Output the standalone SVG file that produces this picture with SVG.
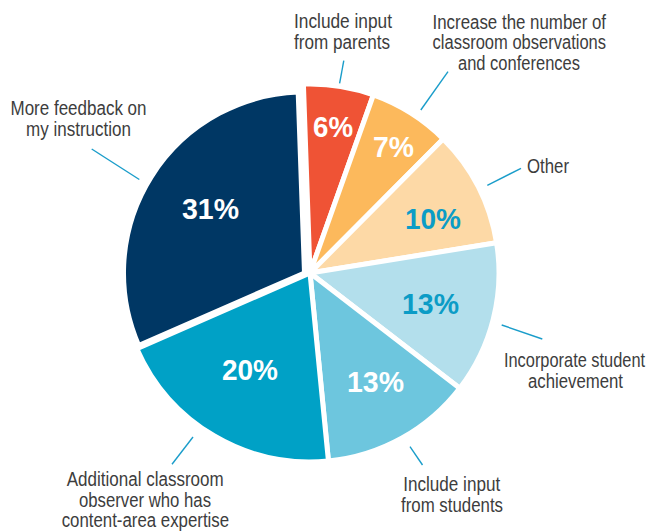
<svg xmlns="http://www.w3.org/2000/svg" width="652" height="531" viewBox="0 0 652 531">
  <style>
    .slice { stroke: #ffffff; stroke-width: 5; stroke-linejoin: round; }
    .pct { font-family: "Liberation Sans", Arial, sans-serif; font-weight: bold; font-size: 30px; text-anchor: middle; }
    .w { fill: #ffffff; }
    .t { fill: #0b9cc6; }
    .lbl { font-family: "Liberation Sans", Arial, sans-serif; font-size: 20px; fill: #3d3d3d; text-anchor: middle; }
    .lead { stroke: #1a9dca; stroke-width: 1.4; fill: none; }
  </style>
  <rect width="652" height="531" fill="#ffffff"/>

  <g id="slice-parents">
    <path class="slice" fill="#ef5335" d="M310 273 L303.40 84.11 A189 189 0 0 1 373.41 94.94 Z"/>
    <text class="pct w" x="333" y="137.3" textLength="40" lengthAdjust="spacingAndGlyphs">6%</text>
    <text class="lbl" x="343" y="28.3" textLength="98" lengthAdjust="spacingAndGlyphs">Include input</text>
    <text class="lbl" x="342" y="48.8" textLength="96" lengthAdjust="spacingAndGlyphs">from parents</text>
  </g>

  <g id="slice-observations">
    <path class="slice" fill="#fcb95c" d="M310 273 L373.41 94.94 A189 189 0 0 1 443.17 138.89 Z"/>
    <text class="pct w" x="393.5" y="157.3" textLength="41" lengthAdjust="spacingAndGlyphs">7%</text>
    <text class="lbl" x="519.3" y="28.8" textLength="173.5" lengthAdjust="spacingAndGlyphs">Increase the number of</text>
    <text class="lbl" x="519.3" y="49.3" textLength="173.5" lengthAdjust="spacingAndGlyphs">classroom observations</text>
    <text class="lbl" x="519" y="70" textLength="122" lengthAdjust="spacingAndGlyphs">and conferences</text>
  </g>

  <g id="slice-other">
    <path class="slice" fill="#fdd9a6" d="M310 273 L443.17 138.89 A189 189 0 0 1 496.56 242.78 Z"/>
    <text class="pct t" x="433" y="229" textLength="56" lengthAdjust="spacingAndGlyphs">10%</text>
    <text class="lbl" x="548" y="173.3" textLength="42" lengthAdjust="spacingAndGlyphs">Other</text>
  </g>

  <g id="slice-achievement">
    <path class="slice" fill="#b3dfec" d="M310 273 L496.56 242.78 A189 189 0 0 1 459.74 388.31 Z"/>
    <text class="pct t" x="430.5" y="314" textLength="57" lengthAdjust="spacingAndGlyphs">13%</text>
    <text class="lbl" transform="translate(574.5 366.7) scale(0.82 1)" x="0" y="0">Incorporate student</text>
    <text class="lbl" x="575.5" y="388.3" textLength="95" lengthAdjust="spacingAndGlyphs">achievement</text>
  </g>

  <g id="slice-students">
    <path class="slice" fill="#6dc6de" d="M310 273 L459.74 388.31 A189 189 0 0 1 328.45 461.09 Z"/>
    <text class="pct w" x="375.5" y="391.7" textLength="57" lengthAdjust="spacingAndGlyphs">13%</text>
    <text class="lbl" x="451.7" y="490.7" textLength="97" lengthAdjust="spacingAndGlyphs">Include input</text>
    <text class="lbl" x="452" y="511.7" textLength="102" lengthAdjust="spacingAndGlyphs">from students</text>
  </g>

  <g id="slice-observer">
    <path class="slice" fill="#00a1c6" d="M310 273 L328.45 461.09 A189 189 0 0 1 136.80 348.66 Z"/>
    <text class="pct w" x="250" y="380" textLength="56" lengthAdjust="spacingAndGlyphs">20%</text>
    <text class="lbl" x="145.2" y="486" textLength="157" lengthAdjust="spacingAndGlyphs">Additional classroom</text>
    <text class="lbl" x="145" y="506.5" textLength="132" lengthAdjust="spacingAndGlyphs">observer who has</text>
    <text class="lbl" x="145.4" y="527" textLength="167.5" lengthAdjust="spacingAndGlyphs">content-area expertise</text>
  </g>

  <g id="slice-feedback">
    <path class="slice" fill="#003764" d="M304.5 273 L138.63 345.45 A181 181 0 0 1 298.18 92.11 Z"/>
    <text class="pct w" x="210.5" y="219.3" textLength="57" lengthAdjust="spacingAndGlyphs">31%</text>
    <text class="lbl" x="78.5" y="115" textLength="136" lengthAdjust="spacingAndGlyphs">More feedback on</text>
    <text class="lbl" x="78.5" y="135.5" textLength="105" lengthAdjust="spacingAndGlyphs">my instruction</text>
  </g>

  <g id="connectors">
    <line class="lead" x1="343.8" y1="60.7" x2="339.6" y2="83.3"/>
    <line class="lead" x1="448" y1="71.7" x2="420.8" y2="110"/>
    <line class="lead" x1="521" y1="168.3" x2="487.3" y2="185.3"/>
    <line class="lead" x1="91.7" y1="149" x2="139.3" y2="179.5"/>
    <line class="lead" x1="501.7" y1="325" x2="542.3" y2="339"/>
    <line class="lead" x1="410" y1="446.7" x2="422.5" y2="465"/>
    <line class="lead" x1="193" y1="437" x2="172" y2="464.3"/>
  </g>
</svg>
